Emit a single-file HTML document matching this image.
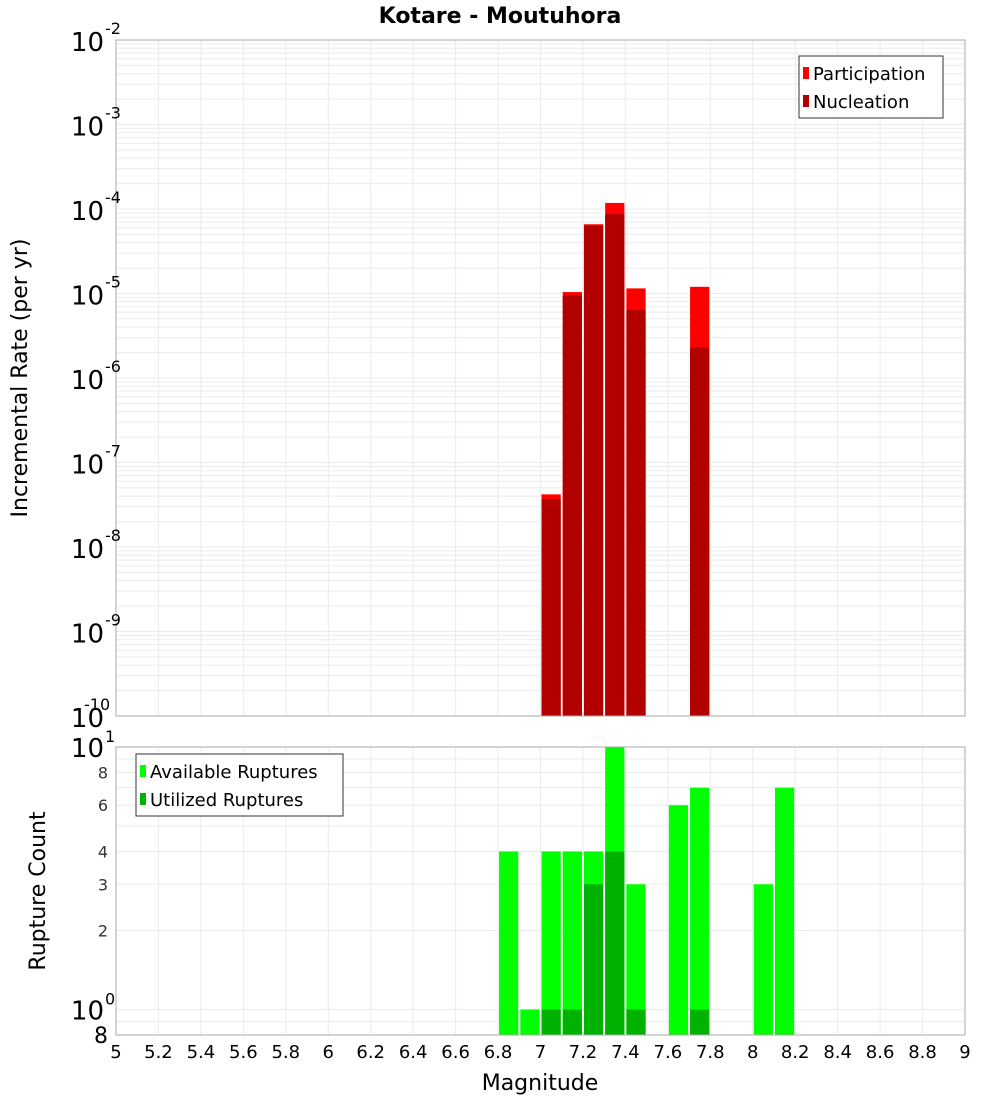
<!DOCTYPE html>
<html><head><meta charset="utf-8"><style>
body{margin:0;background:#fff;font-family:"Liberation Sans","DejaVu Sans",sans-serif}
svg text{font-family:"DejaVu Sans","Liberation Sans",sans-serif}
</style></head><body>
<svg id="c" width="1000" height="1100" xmlns="http://www.w3.org/2000/svg"></svg>
<script>
const binCenters=[7.05,7.15,7.25,7.35,7.45,7.75];
const participation=[4.2e-8,1.04e-5,6.6e-5,1.18e-4,1.15e-5,1.2e-5];
const nucleation=[3.7e-8,9.5e-6,6.3e-5,8.7e-5,6.4e-6,2.3e-6];
const countCenters=[6.85,6.95,7.05,7.15,7.25,7.35,7.45,7.65,7.75,8.05,8.15];
const available=[4,1,4,4,4,10,3,6,7,3,7];
const utilized=[0,0,1,1,3,4,1,0,1,0,0];
const xTicks=[5,5.2,5.4,5.6,5.8,6,6.2,6.4,6.6,6.8,7,7.2,7.4,7.6,7.8,8,8.2,8.4,8.6,8.8,9];
const topExps=[-2,-3,-4,-5,-6,-7,-8,-9,-10];
const bottomMinorTicks=[2,3,4,6,8];

const NS="http://www.w3.org/2000/svg";
const svg=document.getElementById('c');
function el(t,a,p){const e=document.createElementNS(NS,t);for(const k in a)e.setAttribute(k,a[k]);(p||svg).appendChild(e);return e;}
const L=116,R=965,T1=40,B1=716,T2=747,B2=1035;
const x=v=>L+(v-5)/(9-5)*(R-L);
const y1=v=>T1+(-2-Math.log10(v))/8*(B1-T1);
const y2=v=>T2+(1-Math.log10(v))/(1-Math.log10(0.8))*(B2-T2);

// title
let t=el('text',{x:500,y:23,'text-anchor':'middle','font-size':22,'font-weight':'bold'});t.textContent='Kotare - Moutuhora';


// top grid
const g1=el('g',{});
for(let e=-10;e<-2;e++)for(let m=1;m<10;m++){const yy=y1(m*Math.pow(10,e));el('line',{x1:L,x2:R,y1:yy,y2:yy,stroke:'#ebebeb','stroke-width':1},g1);}
xTicks.forEach(v=>{el('line',{x1:x(v),x2:x(v),y1:T1,y2:B1,stroke:'#ebebeb'},g1);el('line',{x1:x(v),x2:x(v),y1:T2,y2:B2,stroke:'#ebebeb'},g1);});
for(let m=1;m<=10;m++){const yy=y2(m);el('line',{x1:L,x2:R,y1:yy,y2:yy,stroke:'#ebebeb'},g1);}
el('line',{x1:L,x2:R,y1:y2(0.9),y2:y2(0.9),stroke:'#ebebeb'},g1);

// top bars
const w=x(5.1)-x(5)-2;
binCenters.forEach((c,i)=>{
 let r=el('rect',{x:x(c)-w/2,y:y1(participation[i]),width:w,height:B1-y1(participation[i]),fill:'#ff0000'});
 
 r=el('rect',{x:x(c)-w/2,y:y1(nucleation[i]),width:w,height:B1-y1(nucleation[i]),fill:'#b20000'});
 
});
// bottom bars
countCenters.forEach((c,i)=>{
 let r=el('rect',{x:x(c)-w/2,y:y2(available[i]),width:w,height:B2-y2(available[i]),fill:'#00ff00'});
 
 if(utilized[i]>0){r=el('rect',{x:x(c)-w/2,y:y2(utilized[i]),width:w,height:B2-y2(utilized[i]),fill:'#00b200'});
 }
});
// frames
el('rect',{x:L,y:T1,width:R-L,height:B1-T1,fill:'none',stroke:'#aaa'});
el('rect',{x:L,y:T2,width:R-L,height:B2-T2,fill:'none',stroke:'#aaa'});

// top y labels
topExps.forEach(e=>{const yy=y1(Math.pow(10,e));
 const tx=el('text',{x:104,y:yy+11,'text-anchor':'end','font-size':26});
 
 tx.textContent='10';
 const s=el('text',{x:105,y:yy-6,'font-size':16});s.textContent=String(e);
 
 if(e===-10){s.setAttribute('x',84);}
});
// bottom y labels
[[10,'1'],[1,'0']].forEach(([v,ex])=>{const yy=y2(v);
 const tx=el('text',{x:104,y:yy+10,'text-anchor':'end','font-size':26});tx.textContent='10';
 
 const s=el('text',{x:105,y:yy-5,'font-size':16});s.textContent=ex;
 
});
bottomMinorTicks.forEach(v=>{const tx=el('text',{x:108,y:y2(v)+6,'text-anchor':'end','font-size':16,fill:'#333'});tx.textContent=String(v);
 });
let t8=el('text',{x:108,y:1043,'text-anchor':'end','font-size':22});t8.textContent='8';


// x labels
xTicks.forEach(v=>{const tx=el('text',{x:x(v),y:1058,'text-anchor':'middle','font-size':18});tx.textContent=String(v);
 });
let xt=el('text',{x:540,y:1090,'text-anchor':'middle','font-size':22});xt.textContent='Magnitude';

let yt=el('text',{x:0,y:0,'text-anchor':'middle','font-size':22,transform:'translate(27,378) rotate(-90)'});yt.textContent='Incremental Rate (per yr)';

let yt2=el('text',{x:0,y:0,'text-anchor':'middle','font-size':22,transform:'translate(45,891) rotate(-90)'});yt2.textContent='Rupture Count';


// legends
function legend(x0,y0,wd,items,name){const g=el('g',{});
 el('rect',{x:x0,y:y0,width:wd,height:62,fill:'#fff',stroke:'#333'},g);
 items.forEach((it,i)=>{el('rect',{x:x0+4,y:y0+11+i*28,width:6,height:12,fill:it[1]},g);
  const tx=el('text',{x:x0+14,y:y0+24+i*28,'font-size':18},g);tx.textContent=it[0];
  });}
legend(799,56,144,[['Participation','#ff0000'],['Nucleation','#b20000']],'top-legend');
legend(136,754,207,[['Available Ruptures','#00ff00'],['Utilized Ruptures','#00b200']],'bottom-legend');
</script>
</body></html>
